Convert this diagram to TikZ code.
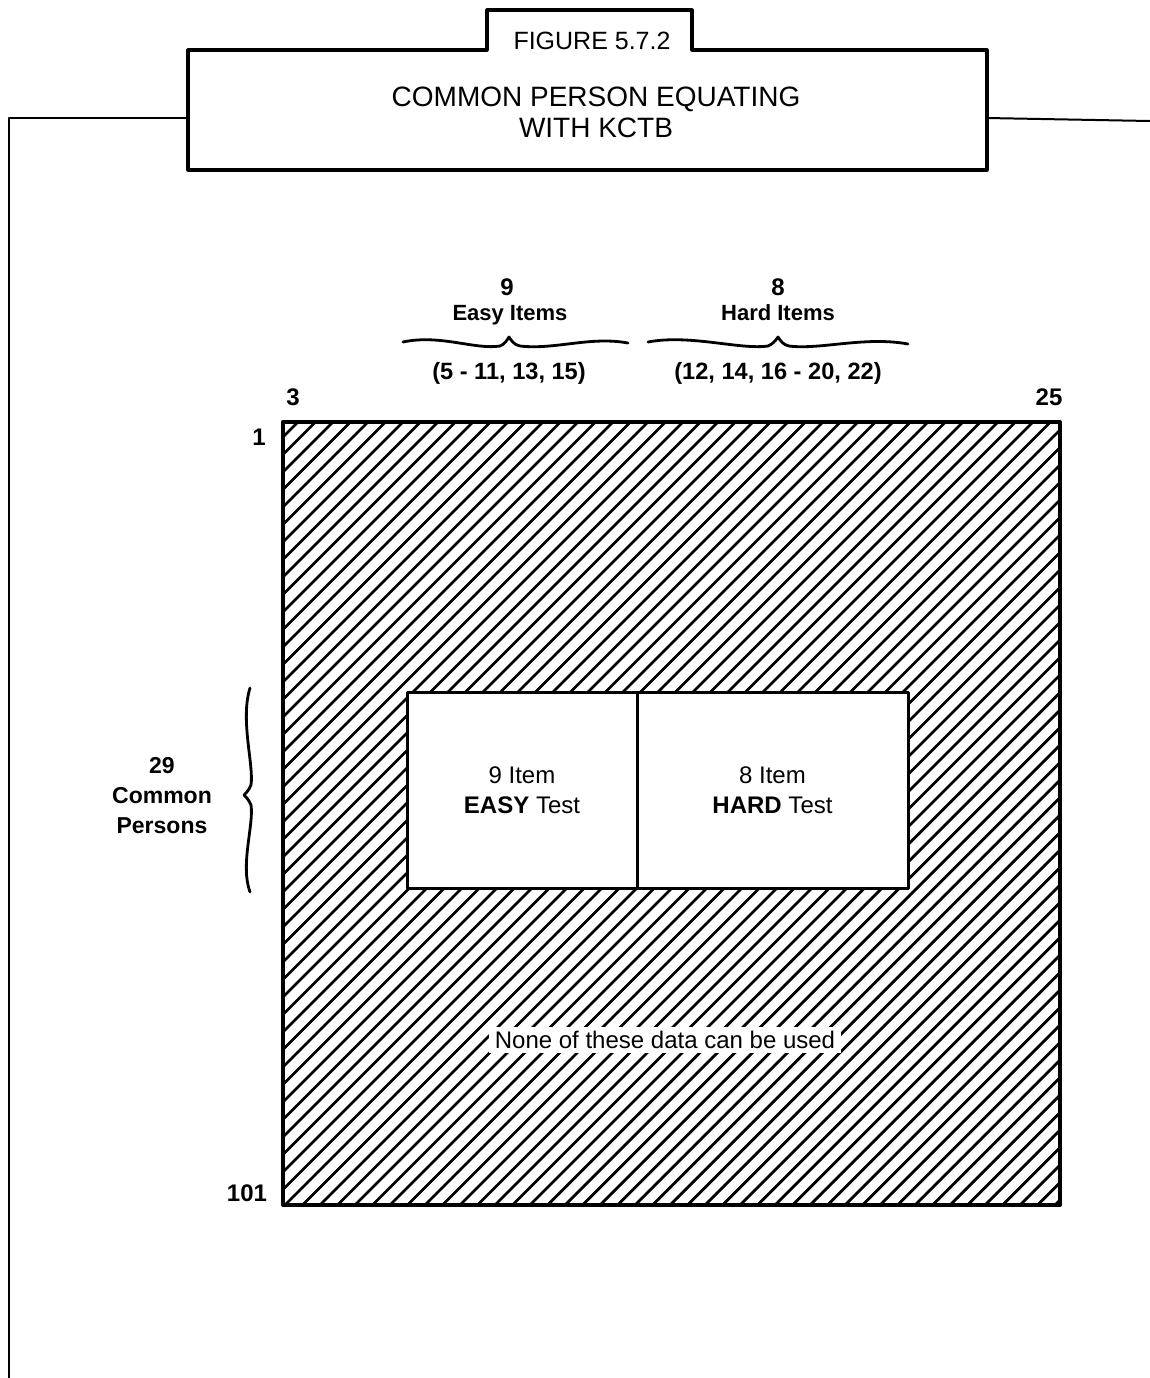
\documentclass[tikz,border=0pt]{standalone}
\usepackage{fontspec}
\setmainfont{Liberation Sans}
\begin{document}
\begin{tikzpicture}[x=0.5pt,y=-0.5pt, line join=round,
  frame/.style={line width=1pt},
  tbox/.style={line width=1.6pt},
  hatchline/.style={line width=1.4pt},
  lbl/.style={font=\fontsize{12}{14}\selectfont\bfseries, inner sep=0pt},
  toplbl/.style={font=\fontsize{11}{13}\selectfont\bfseries, inner sep=0pt},
  parlbl/.style={font=\fontsize{11.8}{14}\selectfont\bfseries, inner sep=0pt},
  testbox/.style={draw, line width=1.5pt, fill=white, minimum height=98pt, align=center,
     font=\fontsize{12}{15}\selectfont},
  bracepath/.style={line width=1.4pt, line cap=round}]
\useasboundingbox (0,0) rectangle (1150,1378);
% outer frame
\draw[frame] (9,1378) -- (9,118) -- (188,118);
\draw[frame] (987,118) -- (1150,121);
\draw[tbox] (487,50) -- (188,50) -- (188,170) -- (987,170) -- (987,50) -- (692,50) -- (692,10) -- (487,10) -- cycle;
\node[font=\fontsize{12.5}{14}\selectfont, inner sep=0pt] (fig) at (592,41) {FIGURE 5.7.2};
\node[font=\fontsize{14}{15.5}\selectfont, align=center, inner sep=0pt] (title) at (596,112) {COMMON PERSON EQUATING\\WITH KCTB};
% hatching
\begin{scope}
  \clip (283,422) rectangle (1060,1205);
  \foreach \x in {-520,-502.5,...,1080} \draw[hatchline] (\x,1205) -- ++(800,-800);
\end{scope}
\node[draw, line width=2pt, minimum width=388.5pt, minimum height=391.5pt, inner sep=0pt] (grid) at (671.5,813.5) {};
% inner test boxes
\node[testbox, minimum width=115pt] (easy) at (522,790) {9 Item\\\textbf{EASY} Test};
\node[testbox, minimum width=135.5pt] (hard) at (772.5,790) {8 Item\\\textbf{HARD} Test};
\node[fill=white, inner xsep=3pt, inner ysep=2pt, font=\fontsize{12}{14}\selectfont] (none) at (665,1040) {None of these data can be used};
% corner labels
\node[lbl] (c3) at (293,397) {3};
\node[lbl] (c25) at (1049,397) {25};
\node[lbl] (r1) at (259,437) {1};
\node[lbl] (r101) at (247,1193) {101};
% top labels
\node[lbl] (n9) at (507,287) {9};
\node[toplbl] (easyitems) at (510,315) {Easy Items};
\node[parlbl] (easylist) at (509,373) {(5 - 11, 13, 15)};
\node[lbl] (n8) at (778,287) {8};
\node[toplbl] (harditems) at (778,313) {Hard Items};
\node[parlbl] (hardlist) at (778,373) {(12, 14, 16 - 20, 22)};
% braces
\draw[bracepath] (403,342) .. controls (440,334) and (475,350) .. (500,346) .. controls (505,344) and (507,340) .. (509,337) .. controls (511,340) and (514,345) .. (520,346) .. controls (555,350) and (590,336) .. (628,343);
\draw[bracepath] (648,342) .. controls (690,334) and (740,350) .. (768,346) .. controls (773,344) and (776,340) .. (778,337) .. controls (780,340) and (783,345) .. (789,346) .. controls (820,350) and (865,336) .. (908,344);
\draw[bracepath] (250,688) .. controls (240,720) and (254,765) .. (251,785) .. controls (249,790) and (246,793) .. (244,795) .. controls (246,797) and (249,800) .. (251,805) .. controls (254,825) and (240,865) .. (250,892);
% left labels
\node[lbl, align=center, font=\fontsize{11.5}{15}\selectfont\bfseries] (persons) at (162,796) {29\\Common\\Persons};
\end{tikzpicture}
\end{document}
